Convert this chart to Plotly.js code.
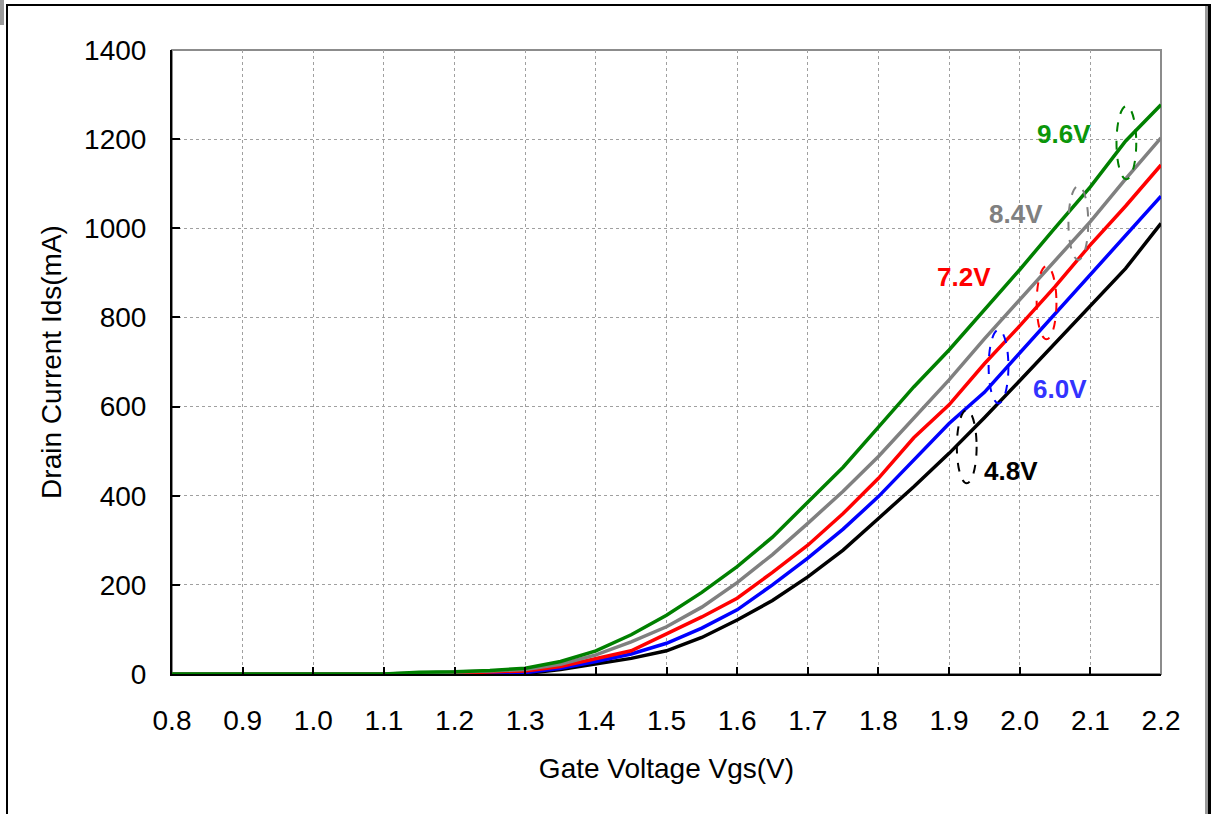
<!DOCTYPE html>
<html>
<head>
<meta charset="utf-8">
<script src="https://cdn.plot.ly/plotly-3.0.1.min.js"></script>
<style>
  html, body { margin: 0; padding: 0; background: #fff; overflow: hidden; }
  #wrap { position: relative; width: 1216px; height: 814px; }
  #chart { position: absolute; left: 0; top: 0; width: 1216px; height: 814px; }
  #frame { position: absolute; left: 6px; top: 4px; width: 1200px; height: 840px;
           border-left: 2px solid #000; border-top: 2px solid #000; border-right: 3px solid #000;
           pointer-events: none; }
  #frameShade { position: absolute; left: 1205px; top: 6px; width: 3px; height: 840px; background: #9a9a9a; pointer-events: none; }
  #corner { position: absolute; left: 0; top: 0; width: 4px; height: 25px; background: #9a9a9a; }
</style>
</head>
<body>
<div id="wrap">
  <div id="chart"></div>
  <div id="frame"></div>
  <div id="frameShade"></div>
  <div id="corner"></div>
</div>
<script>
// Gate voltage sweep (V)
const vgs = [0.8, 0.85, 0.9, 0.95, 1.0, 1.05, 1.1, 1.15, 1.2, 1.25, 1.3, 1.35, 1.4, 1.45, 1.5,
             1.55, 1.6, 1.65, 1.7, 1.75, 1.8, 1.85, 1.9, 1.95, 2.0, 2.05, 2.1, 2.15, 2.2];

// Drain current Ids (mA) for each drain voltage
const ids_9v6 = [0, 0, 0, 0, 0, 0, 0, 4, 5, 8, 13, 28, 52, 88, 132, 183, 241, 307, 386, 464, 554, 644, 727, 817, 907, 1001, 1093, 1196, 1277];
const ids_8v4 = [0, 0, 0, 0, 0, 0, 0, 2, 4, 7, 10, 22, 43, 72, 106, 150, 205, 268, 338, 410, 488, 575, 660, 752, 840, 927, 1015, 1111, 1203];
const ids_7v2 = [0, 0, 0, 0, 0, 0, 0, 0, 2, 4, 7, 17, 35, 52, 90, 128, 170, 228, 289, 360, 439, 530, 604, 696, 781, 869, 963, 1050, 1142];
const ids_6v0 = [0, 0, 0, 0, 0, 0, 0, 0, 0, 1, 3, 13, 28, 45, 69, 103, 144, 200, 260, 325, 398, 480, 562, 632, 720, 809, 896, 984, 1072];
const ids_4v8 = [0, 0, 0, 0, 0, 0, 0, 0, 0, 0, 1, 10, 22, 35, 52, 82, 121, 165, 218, 278, 349, 420, 495, 575, 658, 742, 827, 910, 1011];

// Curve labels
const seriesNames = ['4.8V', '6.0V', '7.2V', '8.4V', '9.6V'];
const seriesData = [ids_4v8, ids_6v0, ids_7v2, ids_8v4, ids_9v6];

// Axis ticks
const xTicks = [0.8, 0.9, 1.0, 1.1, 1.2, 1.3, 1.4, 1.5, 1.6, 1.7, 1.8, 1.9, 2.0, 2.1, 2.2];
const xTickText = ['0.8', '0.9', '1.0', '1.1', '1.2', '1.3', '1.4', '1.5', '1.6', '1.7', '1.8', '1.9', '2.0', '2.1', '2.2'];
const yTicks = [0, 200, 400, 600, 800, 1000, 1200, 1400];

// Styling per curve
const lineColors = ['#000000', '#0000ff', '#ff0000', '#808080', '#008000'];
const labelColors = ['#000000', '#3333ff', '#ff0000', '#808080', '#0a960a'];
// Label anchor (Vgs, Ids) for each curve name
const labelAt = [[1.988, 455], [2.057, 639], [1.921, 890], [1.995, 1032], [2.063, 1212]];
// Dashed ellipse marking each curve: [x0, x1, y0, y1]
const ringAt = [[1.911, 1.939, 428, 592], [1.956, 1.984, 607, 772], [2.024, 2.052, 751, 915],
                [2.069, 2.097, 929, 1095], [2.137, 2.165, 1110, 1274]];

const font = 'Arial, "Liberation Sans", sans-serif';

const traces = seriesData.map((ys, i) => ({
  x: vgs, y: ys, type: 'scatter', mode: 'lines', name: seriesNames[i],
  line: { color: lineColors[i], width: 3.5 }, hoverinfo: 'x+y+name'
}));

const annotations = seriesNames.map((name, i) => ({
  x: labelAt[i][0], y: labelAt[i][1], xref: 'x', yref: 'y',
  text: '<b>' + name + '</b>', showarrow: false,
  font: { family: font, size: 26, color: labelColors[i] },
  xanchor: 'center', yanchor: 'middle'
}));

const shapes = [
  // light frame along the top and right of the plotting area
  { type: 'rect', xref: 'paper', yref: 'paper', x0: 0, x1: 1, y0: 0, y1: 1,
    line: { color: '#8c8c8c', width: 2 }, layer: 'below' }
].concat(ringAt.map((r, i) => ({
  type: 'circle', xref: 'x', yref: 'y', x0: r[0], x1: r[1], y0: r[2], y1: r[3],
  line: { color: lineColors[i], width: 2, dash: 'dash' }, layer: 'above'
})));

const layout = {
  width: 1216, height: 814,
  margin: { l: 172, r: 55, t: 50, b: 140 },
  paper_bgcolor: '#ffffff', plot_bgcolor: '#ffffff',
  showlegend: false,
  font: { family: font, color: '#000' },
  xaxis: {
    range: [0.8, 2.2], tickvals: xTicks, ticktext: xTickText,
    showgrid: true, gridcolor: '#a0a0a0', griddash: 'dot', gridwidth: 1,
    showline: true, linecolor: '#000', linewidth: 2,
    ticks: 'inside', ticklen: 7, tickwidth: 2, tickcolor: '#000',
    tickfont: { family: font, size: 28, color: '#000' },
    ticklabelstandoff: 20,
    zeroline: false,
    title: { text: 'Gate Voltage Vgs(V)', font: { family: font, size: 28, color: '#000' }, standoff: 24 }
  },
  yaxis: {
    range: [0, 1400], tickvals: yTicks,
    showgrid: true, gridcolor: '#a0a0a0', griddash: 'dot', gridwidth: 1,
    showline: true, linecolor: '#000', linewidth: 2,
    ticks: 'inside', ticklen: 8, tickwidth: 2, tickcolor: '#000',
    tickfont: { family: font, size: 28, color: '#000' },
    ticklabelstandoff: 18,
    zeroline: false,
    title: { text: 'Drain Current Ids(mA)', font: { family: font, size: 28, color: '#000' }, standoff: 14 }
  },
  annotations: annotations,
  shapes: shapes
};

Plotly.newPlot('chart', traces, layout, { displayModeBar: false, staticPlot: true });
</script>
</body>
</html>
